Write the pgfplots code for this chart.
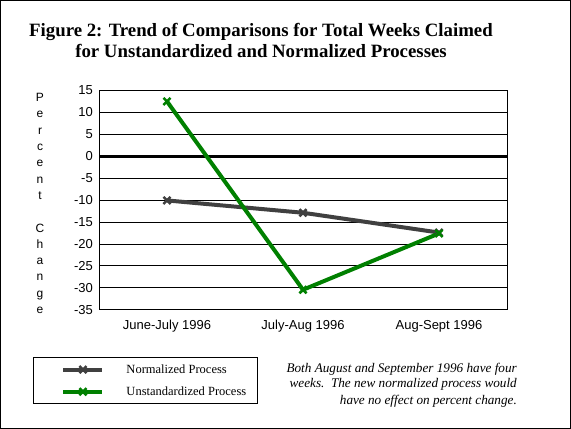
\documentclass[border=0pt]{standalone}
\usepackage{fontspec}
\setmainfont{Liberation Serif}
\setsansfont{Liberation Sans}
\usepackage{pgfplots}
\pgfplotsset{compat=1.18}
\definecolor{normgray}{RGB}{64,64,64}
\definecolor{unstgreen}{RGB}{0,128,0}
\begin{document}
\begin{tikzpicture}
\useasboundingbox (0,0) rectangle (571bp,429bp);
\draw[line width=1bp] (0.5bp,0.5bp) rectangle (570.5bp,428.5bp);
% title
\node[anchor=base, font=\fontsize{18.8bp}{21bp}\selectfont\bfseries] at (261bp,392bp)
  {Figure 2: Trend of Comparisons for Total Weeks Claimed};
\node[anchor=base, font=\fontsize{18.8bp}{21bp}\selectfont\bfseries] at (261bp,371bp)
  {for Unstandardized and Normalized Processes};
% vertical y label
\node[align=center, font=\sffamily\fontsize{12bp}{16.3bp}\selectfont] at (40bp,225.5bp)
  {P\\e\\r\\c\\e\\n\\t\\\mbox{}\\C\\h\\a\\n\\g\\e};
% note
\begin{scope}[font=\itshape\fontsize{13.2bp}{15bp}\selectfont]
\node[anchor=base east, inner sep=0pt] at (517bp,56bp) {Both August and September 1996 have four};
\node[anchor=base east, inner sep=0pt] at (517bp,41bp) {weeks.\ \ The new normalized process would};
\node[anchor=base east, inner sep=0pt] at (517bp,25bp) {have no effect on percent change.};
\end{scope}
\begin{axis}[
  at={(99bp,119bp)}, anchor=south west,
  scale only axis, width=408bp, height=220bp,
  xmin=-0.5, xmax=2.5, ymin=-35, ymax=15,
  xtick={0,1,2},
  xticklabels={June-July 1996, July-Aug 1996, Aug-Sept 1996},
  ytick={-35,-30,...,15},
  major tick length=0pt,
  ymajorgrids,
  grid style={black, line width=1bp},
  axis line style={black, line width=1bp},
  tick label style={font=\sffamily\fontsize{13bp}{15bp}\selectfont},
  /pgf/number format/assume math mode=true,
  xticklabel style={anchor=base, inner sep=0pt, yshift=-20bp},
  yticklabel style={anchor=east, inner sep=0pt, xshift=-6bp},
  legend style={at={(axis description cs:-0.1618,-0.2136)}, anchor=north west,
    draw=black, line width=1bp, inner xsep=28bp, inner ysep=7bp,
    column sep=22bp, row sep=12bp,
    nodes={inner sep=0pt, font=\fontsize{12.5bp}{14bp}\selectfont}},
  legend cell align=left,
  legend image code/.code={
    \draw[mark repeat=2,mark phase=2,#1] plot coordinates {(0bp,0bp) (19.5bp,0bp) (39bp,0bp)};
  },
]
\draw[line width=3bp] (axis cs:-0.5,0) -- (axis cs:2.5,0);
\draw[line width=2.5bp] (axis description cs:0,0) -- (axis description cs:0,1);
\draw[line width=2.5bp] (axis description cs:0,0) -- (axis description cs:1,0);
\addplot[normgray, line width=4bp, mark=x, mark size=5bp,
  mark options={line width=2.5bp}] coordinates {
  (0,-10.1) (1,-12.9) (2,-17.4)
};
\addlegendentry{\makebox[103bp][l]{Normalized Process}}
\addplot[unstgreen, line width=4bp, mark=x, mark size=5bp,
  mark options={line width=2.5bp}] coordinates {
  (0,12.4) (1,-30.4) (2,-17.6)
};
\addlegendentry{\makebox[103bp][l]{Unstandardized Process}}
\end{axis}
\end{tikzpicture}
\end{document}
